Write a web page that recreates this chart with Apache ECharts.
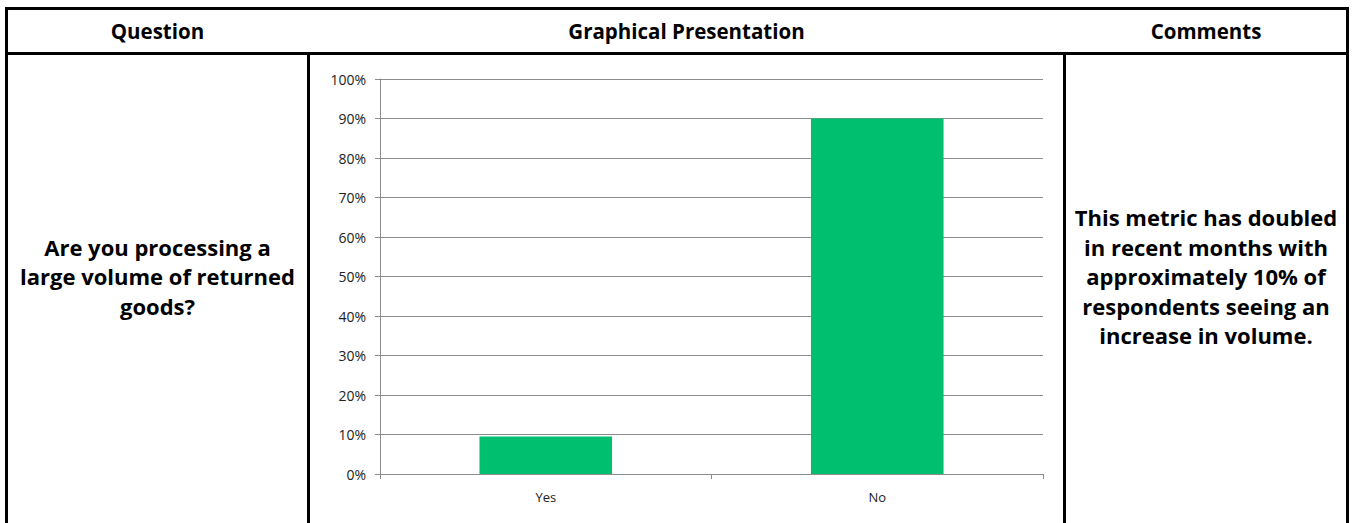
<!DOCTYPE html>
<html>
<head>
<meta charset="utf-8">
<script src="https://cdn.jsdelivr.net/npm/echarts@6/dist/echarts.min.js"></script>
<style>
	html, body { margin: 0; padding: 0; background: #fff; }
	body { width: 1352px; height: 523px; position: relative; overflow: hidden; font-family: "Open Sans", Lato, sans-serif; color: #000; }
	.line { position: absolute; background: #000; }
	.head { position: absolute; top: 10px; height: 42px; line-height: 42px; text-align: center; font-weight: bold; font-size: 20.5px; }
	.cell { position: absolute; top: 55px; height: 444px; display: flex; align-items: center; justify-content: center; text-align: center; font-weight: bold; font-size: 22px; line-height: 29.5px; }
	#myChart { position: absolute; left: 311px; top: 55px; width: 752px; height: 468px; }
</style>
</head>
<body>
<!-- table frame -->
<div class="line" style="left:5px; top:7px; width:1344px; height:3px;"></div>
<div class="line" style="left:5px; top:52px; width:1344px; height:3px;"></div>
<div class="line" style="left:5px; top:7px; width:3px; height:516px;"></div>
<div class="line" style="left:1346px; top:7px; width:3px; height:516px;"></div>
<div class="line" style="left:307px; top:52px; width:3px; height:471px;"></div>
<div class="line" style="left:1063px; top:52px; width:3px; height:471px;"></div>

<div class="head" style="left:8px; width:299px;">Question</div>
<div class="head" style="left:310px; width:753px;">Graphical Presentation</div>
<div class="head" style="left:1066px; width:280px;">Comments</div>

<div class="cell" style="left:8px; width:299px;">Are you processing a<br>large volume of returned<br>goods?</div>
<div class="cell" style="left:1066px; width:280px;">This metric has doubled<br>in recent months with<br>approximately 10% of<br>respondents seeing an<br>increase in volume.</div>

<div id="myChart"></div>

<script>
var categories = ['Yes', 'No'];
var values = [9.5, 90];
var yTicks = [0, 10, 20, 30, 40, 50, 60, 70, 80, 90, 100];

// 绘制图表
var myChart = echarts.init(document.getElementById('myChart'), null, {renderer: 'svg'});
var option = {
	animation: false,
	grid: {left: 69, right: 20, top: 24, bottom: 49},
	xAxis: {
		type: 'category',
		data: categories,
		axisLine: {lineStyle: {color: '#8c8c8c'}},
		axisTick: {show: true, length: 5, lineStyle: {color: '#8c8c8c'}},
		axisLabel: {color: '#222', fontSize: 13, fontFamily: 'Open Sans', margin: 16}
	},
	yAxis: {
		type: 'value',
		min: yTicks[0],
		max: yTicks[yTicks.length - 1],
		interval: 10,
		axisLine: {show: true, lineStyle: {color: '#8c8c8c'}},
		axisTick: {show: true, length: 5, lineStyle: {color: '#8c8c8c'}},
		axisLabel: {formatter: '{value}%', color: '#222', fontSize: 14, fontFamily: 'Open Sans', margin: 14},
		splitLine: {lineStyle: {color: '#8c8c8c', width: 1}}
	},
	series: [{
		type: 'bar',
		data: values,
		barWidth: '40%',
		itemStyle: {color: '#00bf6f'}
	}]
};
myChart.setOption(option);
</script>
</body>
</html>
